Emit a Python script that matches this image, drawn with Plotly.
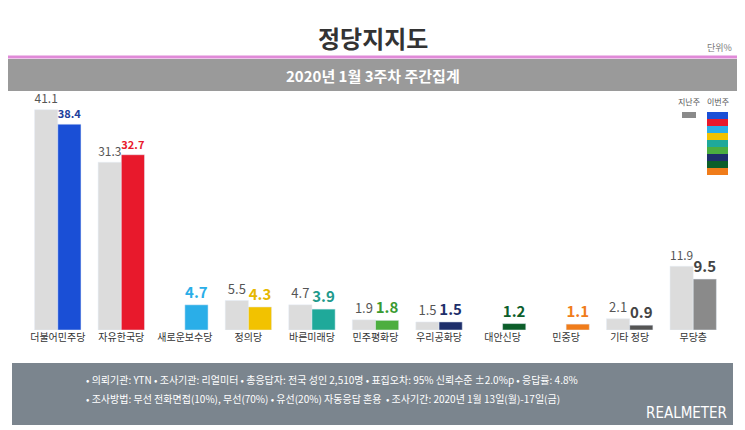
import plotly.graph_objects as go

parties = ['더불어민주당', '자유한국당', '새로운보수당', '정의당', '바른미래당', '민주평화당',
           '우리공화당', '대안신당', '민중당', '기타 정당', '무당층']
last_week = [41.1, 31.3, None, 5.5, 4.7, 1.9, 1.5, None, None, 2.1, 11.9]
this_week = [38.4, 32.7, 4.7, 4.3, 3.9, 1.8, 1.5, 1.2, 1.1, 0.9, 9.5]
colors = ['#1a4fd6', '#e8192c', '#2aaee8', '#f2c200', '#1fa99a', '#4cae3f',
          '#1e2f6b', '#0c5e2a', '#f07c1a', '#555555', '#8a8a8a']
label_colors = ['#1e3f9c', '#e8192c', '#2aaee8', '#e6b800', '#1f9a8c', '#3a9a30',
                '#1e2f6b', '#0c5e2a', '#f07c1a', '#444444', '#444444']
FONT = 'Noto Sans CJK KR'

# the page body has an 8px margin, so the figure is drawn 8px in from the window
W, H, OFF = 737, 422, 8


def fy(px):
    # window pixel row -> paper fraction
    return 1 - (px - OFF) / H


def fx(px):
    return (px - OFF) / W


def ann(text, x, y, size, color, xanchor='center', family=FONT):
    return dict(text=text, x=x, y=y, xref='paper', yref='paper', showarrow=False,
                xanchor=xanchor, yanchor='middle', font=dict(size=size, color=color, family=family))


fig = go.Figure()
fig.add_bar(x=parties, y=last_week, marker_color='#dcdcdc',
            text=[f'{v}' if v is not None else '' for v in last_week],
            textposition='outside', textfont=dict(size=13, color='#555', family=FONT),
            cliponaxis=False)
fig.add_bar(x=parties, y=this_week, marker_color=colors,
            text=[f'<b>{v}</b>' for v in this_week],
            textposition='outside', textfont=dict(size=15, color=label_colors, family=FONT),
            cliponaxis=False)

shapes = [
    dict(type='line', xref='paper', yref='paper', x0=fx(8), x1=fx(737), y0=fy(57), y1=fy(57),
         line=dict(color='#e08ad8', width=3)),
    dict(type='rect', xref='paper', yref='paper', x0=fx(8), x1=fx(737), y0=fy(91), y1=fy(59),
         line_width=0, fillcolor='#9a9a9a', layer='below'),
    dict(type='rect', xref='paper', yref='paper', x0=fx(12), x1=fx(733), y0=fy(425), y1=fy(363),
         line_width=0, fillcolor='#7b858e'),
    dict(type='rect', xref='paper', yref='paper', x0=fx(682), x1=fx(696), y0=fy(118), y1=fy(112),
         line_width=0, fillcolor='#8a8a8a'),
]
# colour stack for this week
for i, c in enumerate(colors[:9]):
    shapes.append(dict(type='rect', xref='paper', yref='paper', x0=fx(707), x1=fx(728),
                       y0=fy(112 + (i + 1) * 7), y1=fy(112 + i * 7), line_width=0, fillcolor=c))

annotations = [
    ann('<b>정당지지도</b>', fx(373), fy(38), 24, '#333'),
    ann('단위%', fx(734), fy(47), 9, '#777', xanchor='right'),
    ann('<b>2020년 1월 3주차 주간집계</b>', fx(373), fy(75), 15, 'white'),
    ann('지난주', fx(689), fy(102), 8, '#555'),
    ann('이번주', fx(718), fy(102), 8, '#555'),
    ann('• 의뢰기관: YTN • 조사기관: 리얼미터 • 총응답자: 전국 성인 2,510명 • 표집오차: 95% 신뢰수준 ±2.0%p • 응답률: 4.8%',
        fx(84), fy(379), 10, 'white', xanchor='left'),
    ann('• 조사방법: 무선 전화면접(10%), 무선(70%) • 유선(20%) 자동응답 혼용  • 조사기간: 2020년 1월 13일(월)-17일(금)',
        fx(84), fy(398), 10, 'white', xanchor='left'),
    ann('REALMETER', fx(729), fy(413), 15, 'white', xanchor='right', family='DejaVu Sans Condensed'),
]

fig.update_layout(
    width=W, height=H, barmode='group', bargap=0.27, bargroupgap=0,
    showlegend=False, paper_bgcolor='white', plot_bgcolor='rgba(0,0,0,0)',
    margin=dict(l=0, r=0, t=0, b=0, autoexpand=False),
    shapes=shapes, annotations=annotations,
    font=dict(family=FONT),
)
fig.update_yaxes(range=[0, 50], visible=False, domain=[fy(330), fy(62)], automargin=False)
fig.update_xaxes(tickfont=dict(size=10, color='#333', family=FONT), showline=False, ticks='',
                 domain=[fx(26), fx(725)], automargin=False)

fig.write_html('out.html')
